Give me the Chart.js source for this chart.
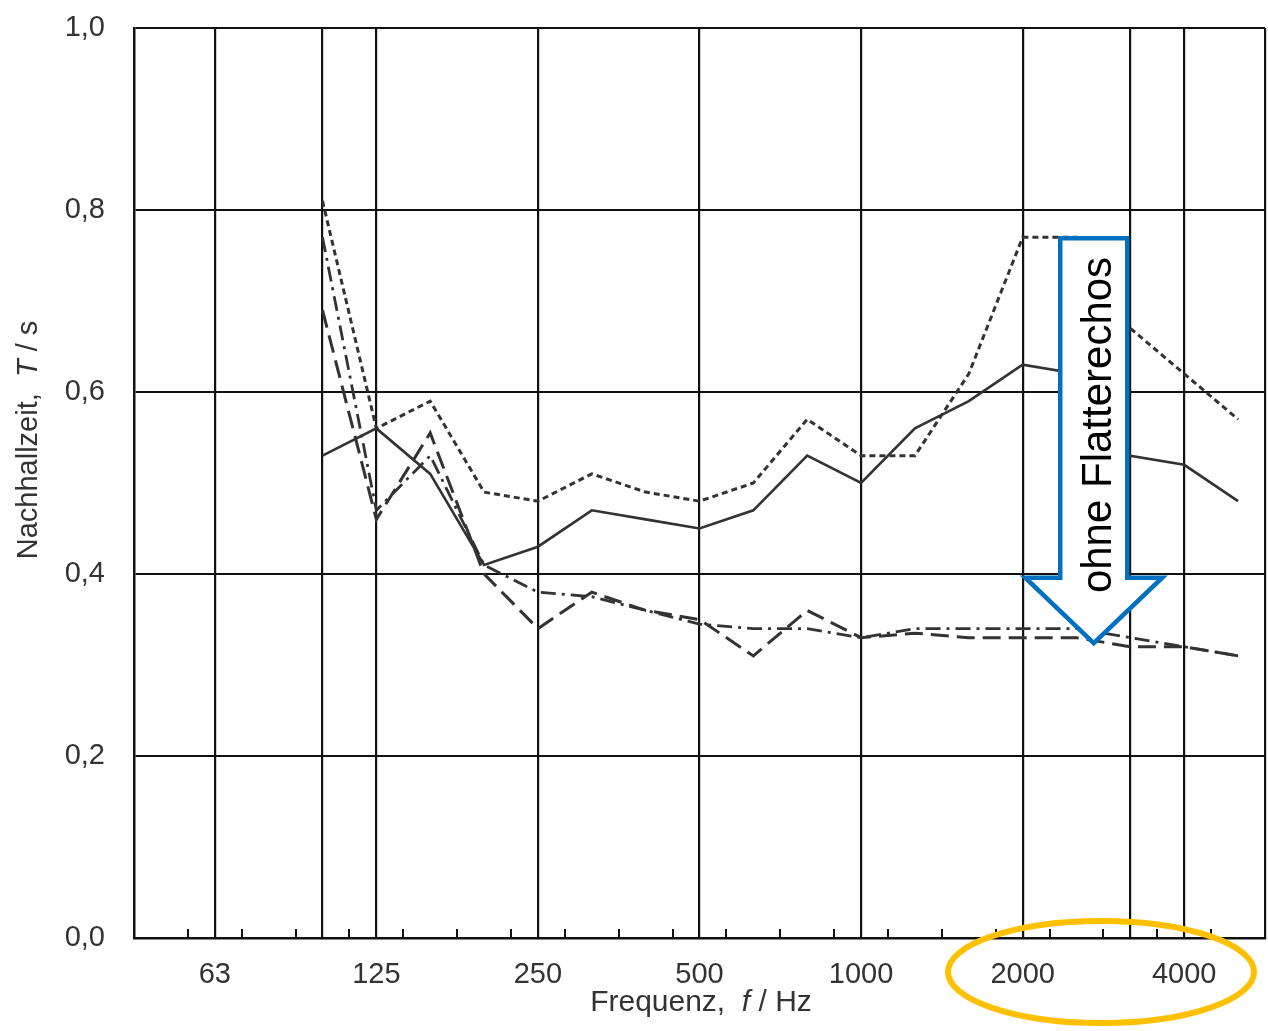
<!DOCTYPE html>
<html>
<head>
<meta charset="utf-8">
<script src="https://cdn.jsdelivr.net/npm/chart.js@4.4.1/dist/chart.umd.min.js"></script>
<style>
html,body{margin:0;padding:0;background:#fff;}
#wrap{position:relative;width:1268px;height:1031px;}
</style>
</head>
<body>
<div id="wrap"><canvas id="c" width="1268" height="1031"></canvas></div>
<script>
// third-octave bands along the x axis (band index = position)
const bands = ["63","80","100","125","160","200","250","315","400","500","630","800","1000","1250","1600","2000","2500","3150","4000","5000"];
const labelledBands = ["63","125","250","500","1000","2000","4000"];
const extraGridBands = ["100","3150"];

// measured frequencies
const freqs = ["100","125","160","200","250","315","400","500","630","800","1000","1250","1600","2000","2500","3150","4000","5000"];

// reverberation time T / s
const seriesSolid   = [0.53,0.56,0.51,0.41,0.43,0.47,0.46,0.45,0.47,0.53,0.50,0.56,0.59,0.63,0.62,0.53,0.52,0.48];
const seriesDotted  = [0.81,0.56,0.59,0.49,0.48,0.51,0.49,0.48,0.50,0.57,0.53,0.53,0.62,0.77,0.77,0.67,0.62,0.57];
const seriesDashed  = [0.69,0.46,0.555,0.40,0.34,0.38,0.36,0.35,0.31,0.36,0.33,0.335,0.33,0.33,0.33,0.32,0.32,0.31];
const seriesDashDot = [0.77,0.47,0.53,0.41,0.38,0.375,0.36,0.345,0.34,0.34,0.33,0.34,0.34,0.34,0.34,0.33,0.32,0.31];

const yTicks = [0,0.2,0.4,0.6,0.8,1.0];

const bi = f => bands.indexOf(f);
const pts = arr => freqs.map((f,k)=>({x:bi(f), y:arr[k]}));

const lineCol = '#333333';
const mk = (arr, dash, w) => ({data:pts(arr), borderColor:lineCol, borderWidth:w, borderDash:dash, pointRadius:0, tension:0, fill:false});

const gridVals = labelledBands.map(bi).concat(extraGridBands.map(bi)).concat([19.5]).sort((a,b)=>a-b);

const overlay = {
  id:'overlay',
  afterDraw(chart){
    const ctx = chart.ctx, xs = chart.scales.x, ys = chart.scales.y;
    ctx.save();
    // minor inward ticks at band edges
    ctx.strokeStyle = '#111'; ctx.lineWidth = 2;
    for (let i=-1;i<bands.length;i++){
      const px = Math.round(xs.getPixelForValue(i+0.5));
      ctx.beginPath(); ctx.moveTo(px, ys.bottom); ctx.lineTo(px, ys.bottom-9); ctx.stroke();
    }
    // axis titles
    ctx.fillStyle = '#333';
    ctx.textBaseline = 'alphabetic';
    const f1 = '30px "Liberation Sans", Arial, sans-serif';
    const f2 = 'italic 30px "Liberation Sans", Arial, sans-serif';
    const parts = [["Frequenz,  ",f1],["f",f2],[" / Hz",f1]];
    let tw=0; parts.forEach(p=>{ctx.font=p[1]; tw+=ctx.measureText(p[0]).width;});
    let x0 = 701 - tw/2;
    parts.forEach(p=>{ctx.font=p[1]; ctx.fillText(p[0], x0, 1011); x0+=ctx.measureText(p[0]).width;});
    // y title
    ctx.save();
    ctx.translate(37, 440); ctx.rotate(-Math.PI/2);
    const g1 = '29px "Liberation Sans", Arial, sans-serif';
    const g2 = 'italic 29px "Liberation Sans", Arial, sans-serif';
    const yp = [["Nachhallzeit,  ",g1],["T",g2],[" / s",g1]];
    let yw=0; yp.forEach(p=>{ctx.font=p[1]; yw+=ctx.measureText(p[0]).width;});
    let y0=-yw/2;
    yp.forEach(p=>{ctx.font=p[1]; ctx.fillText(p[0], y0, 0); y0+=ctx.measureText(p[0]).width;});
    ctx.restore();

    // blue arrow annotation
    const cx = xs.getPixelForValue(16.32);
    const bw = 33.5, hw = 68.5;
    const yTop = ys.getPixelForValue(0.769), ySh = ys.getPixelForValue(0.396), yTip = ys.getPixelForValue(0.324);
    ctx.beginPath();
    ctx.moveTo(cx-bw, yTop); ctx.lineTo(cx+bw, yTop); ctx.lineTo(cx+bw, ySh);
    ctx.lineTo(cx+hw, ySh); ctx.lineTo(cx, yTip); ctx.lineTo(cx-hw, ySh); ctx.lineTo(cx-bw, ySh);
    ctx.closePath();
    ctx.fillStyle = '#fff'; ctx.fill();
    ctx.lineWidth = 4.5; ctx.strokeStyle = '#0070C0'; ctx.lineJoin='miter'; ctx.stroke();
    ctx.save();
    ctx.translate(cx+17, 425); ctx.rotate(-Math.PI/2);
    ctx.font = '42px "Liberation Sans", Arial, sans-serif';
    ctx.fillStyle = '#000'; ctx.textAlign='center'; ctx.textBaseline='alphabetic';
    ctx.fillText('ohne Flatterechos', 0, 0);
    ctx.restore();

    // orange ellipse
    ctx.beginPath();
    ctx.ellipse(1101, 972, 153, 51, 0, 0, Math.PI*2);
    ctx.lineWidth = 6; ctx.strokeStyle = '#FFC000'; ctx.stroke();
    ctx.restore();
  }
};

new Chart(document.getElementById('c'), {
  type:'line',
  data:{datasets:[
    mk(seriesSolid, [], 2.6),
    mk(seriesDotted, [6,4], 3),
    mk(seriesDashed, [18,8], 3),
    mk(seriesDashDot, [15,6,3,6], 2.8)
  ]},
  options:{
    responsive:false, animation:false, devicePixelRatio:1,
    layout:{padding:{left:0,right:3,top:28,bottom:0}},
    plugins:{legend:{display:false}, tooltip:{enabled:false}},
    scales:{
      x:{
        type:'linear', min:-1.5, max:19.5,
        afterBuildTicks(a){ a.ticks = gridVals.map(v=>({value:v})); },
        afterFit(s){ s.height = 93; s.paddingLeft = 0; s.paddingRight = 0; },
        ticks:{
          autoSkip:false, maxRotation:0, padding:20, color:'#333',
          font:{family:'"Liberation Sans", Arial, sans-serif', size:29},
          callback(v){ const b = bands[v]; return (b && labelledBands.includes(b)) ? b : ''; }
        },
        grid:{color:'#111', lineWidth:2.2, drawTicks:false},
        border:{color:'#111', width:2.5}
      },
      y:{
        min:0, max:1,
        afterBuildTicks(a){ a.ticks = yTicks.map(v=>({value:v})); },
        afterFit(s){ s.width = 134; s.paddingTop = 0; s.paddingBottom = 0; },
        ticks:{
          padding:29, color:'#333',
          font:{family:'"Liberation Sans", Arial, sans-serif', size:29},
          callback(v){ return v.toFixed(1).replace('.',','); }
        },
        grid:{color:'#111', lineWidth:2, drawTicks:false},
        border:{color:'#111', width:2.5}
      }
    }
  },
  plugins:[overlay]
});
</script>
</body>
</html>
